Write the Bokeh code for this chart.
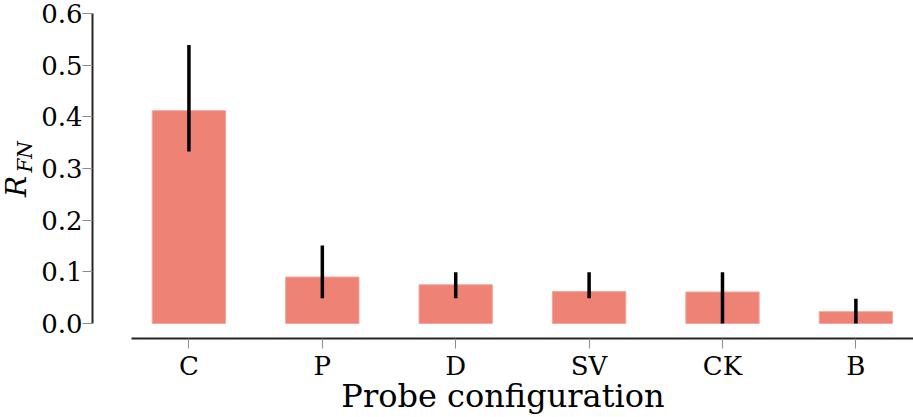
import math
from bokeh.plotting import figure
from bokeh.layouts import row
from bokeh.models import Range1d, FixedTicker, ColumnDataSource
from bokeh.core.properties import value
from bokeh.embed import file_html
from bokeh.resources import INLINE

categories = ["C", "P", "D", "SV", "CK", "B"]
values = [0.412, 0.090, 0.075, 0.062, 0.061, 0.023]
err_low = [0.333, 0.049, 0.049, 0.049, 0.000, 0.000]
err_high = [0.539, 0.151, 0.099, 0.099, 0.099, 0.048]
y_ticks = [0.0, 0.1, 0.2, 0.3, 0.4, 0.5, 0.6]
y_tick_labels = ["0.0", "0.1", "0.2", "0.3", "0.4", "0.5", "0.6"]
x_label = "Probe configuration"
y_label_main = "R"
y_label_sub = "FN"

FONT = "DejaVu Serif"
H = 417
LEFT_W = 38
MAIN_W = 913 - LEFT_W

xs = list(range(len(categories)))
src = ColumnDataSource(dict(x=xs, top=values, lo=err_low, hi=err_high))

# ---- narrow panel holding the rotated y-axis label  R_FN ----
lab = figure(width=LEFT_W, height=H, output_backend="svg", toolbar_location=None,
             x_range=Range1d(0, LEFT_W), y_range=Range1d(0, H),
             x_axis_location=None, y_axis_location=None,
             min_border=0, min_border_left=0, min_border_right=0,
             min_border_top=0, min_border_bottom=0)
lab.grid.visible = False
lab.outline_line_color = None
lab.text(x=[16], y=[195], text=[y_label_main], angle=math.pi / 2,
         text_font=value(FONT), text_font_style="italic", text_font_size="28px",
         text_align="center", text_baseline="middle", text_color="black")
lab.text(x=[24], y=[233], text=[y_label_sub], angle=math.pi / 2,
         text_font=value(FONT), text_font_style="italic", text_font_size="20px",
         text_align="center", text_baseline="middle", text_color="black")

# ---- main bar chart ----
p = figure(width=MAIN_W, height=H, output_backend="svg", toolbar_location=None,
           x_range=Range1d(-0.723, 5.432), y_range=Range1d(-0.029, 0.6),
           min_border_left=52, min_border_right=0, min_border_top=13,
           background_fill_color="white", border_fill_color="white")
p.outline_line_color = None
p.xgrid.visible = False
p.ygrid.visible = False

p.vbar(x="x", top="top", bottom=0, width=0.55, source=src,
       fill_color="#ED8275", line_color="#F3A79E", line_width=1)
p.segment(x0="x", y0="lo", x1="x", y1="hi", source=src,
          line_color="black", line_width=3.5)

ya = p.yaxis[0]
ya.ticker = FixedTicker(ticks=y_ticks)
ya.major_label_overrides = {t: l for t, l in zip(y_ticks, y_tick_labels)}
ya.bounds = (y_ticks[0], y_ticks[-1])
ya.axis_line_color = "#262626"
ya.axis_line_width = 2
ya.major_tick_line_color = "#8c8c8c"
ya.major_tick_in = 0
ya.major_tick_out = 10
ya.minor_tick_line_color = None
ya.major_label_text_font = FONT
ya.major_label_text_font_size = "26px"
ya.major_label_text_color = "black"
ya.major_label_standoff = 0

xa = p.xaxis[0]
xa.ticker = FixedTicker(ticks=xs)
xa.major_label_overrides = {i: c for i, c in zip(xs, categories)}
xa.bounds = (-0.43, 5.43)
xa.axis_line_color = "#262626"
xa.axis_line_width = 2
xa.major_tick_line_color = "#8c8c8c"
xa.major_tick_in = 0
xa.major_tick_out = 10
xa.minor_tick_line_color = None
xa.major_label_text_font = FONT
xa.major_label_text_font_size = "26px"
xa.major_label_text_color = "black"
xa.major_label_standoff = 2
xa.axis_label = x_label
xa.axis_label_text_font = FONT
xa.axis_label_text_font_size = "32px"
xa.axis_label_text_font_style = "normal"
xa.axis_label_text_color = "black"
xa.axis_label_standoff = -7

layout = row(lab, p, spacing=0)
open("out.html", "w").write(file_html(layout, INLINE))
